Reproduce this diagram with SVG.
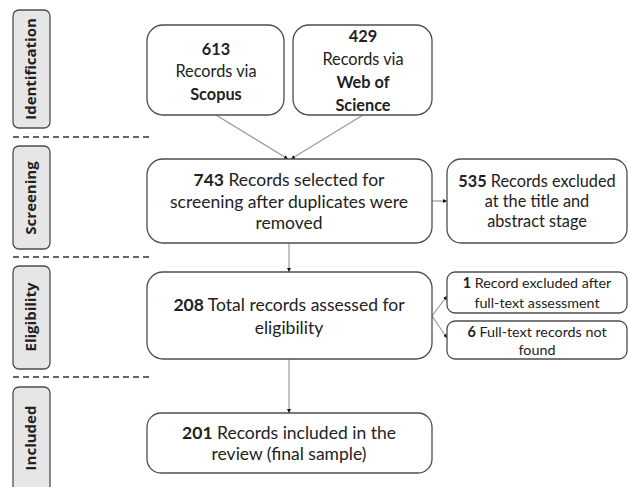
<svg xmlns="http://www.w3.org/2000/svg" width="628" height="487" viewBox="0 0 628 487">
<defs>
<marker id="ah" viewBox="0 0 10 10" refX="10" refY="5" markerWidth="4" markerHeight="4" orient="auto" markerUnits="userSpaceOnUse">
<path d="M0,0 L10,5 L0,10 z" fill="#111"/>
</marker>
</defs>
<style>
.box{fill:#fff;stroke:#4d4d4d;stroke-width:1.3}
.side{fill:#e6e6e6;stroke:#4d4d4d;stroke-width:1.3}
.t{font-family:Lato,"Open Sans",sans-serif;font-size:16.3px;fill:#222;text-anchor:middle}
.L{font-size:17.5px}
.s{font-size:14.3px}
.b{font-weight:bold}
.sl{font-family:"Open Sans",Lato,sans-serif;font-size:15px;font-weight:bold;fill:#222;text-anchor:middle}
.dash{stroke:#333;stroke-width:1.5;stroke-dasharray:6,4}
.c{stroke:#999;stroke-width:1.2;fill:none;marker-end:url(#ah)}
</style>
<rect width="628" height="487" fill="#fff"/>
<g id="lanes">
<rect class="side" x="13" y="10" width="37" height="118" rx="6"/>
<text class="sl" transform="translate(36,69) rotate(-90)">Identification</text>
<rect class="side" x="13" y="146" width="37" height="103" rx="6"/>
<text class="sl" transform="translate(36,198) rotate(-90)">Screening</text>
<rect class="side" x="13" y="266" width="37" height="103" rx="6"/>
<text class="sl" transform="translate(36,317) rotate(-90)">Eligibility</text>
<rect class="side" x="13" y="387" width="37" height="110" rx="6"/>
<text class="sl" transform="translate(36,438) rotate(-90)">Included</text>
<line class="dash" x1="13" y1="137" x2="152" y2="137"/>
<line class="dash" x1="13" y1="257" x2="152" y2="257"/>
<line class="dash" x1="13" y1="377" x2="152" y2="377"/>
</g>
<g id="connectors">
<line class="c" x1="216" y1="115" x2="288" y2="159"/>
<line class="c" x1="363" y1="115" x2="291" y2="159"/>
<line class="c" x1="432" y1="201" x2="447" y2="201"/>
<line class="c" x1="289" y1="243" x2="289" y2="272"/>
<line class="c" x1="432" y1="316" x2="447" y2="296"/>
<line class="c" x1="432" y1="316" x2="447" y2="338"/>
<line class="c" x1="289" y1="359" x2="289" y2="413"/>
</g>
<g id="n613">
<rect class="box" x="147" y="25" width="137" height="90" rx="16"/>
<text class="t" x="216" y="55"><tspan class="b">613</tspan></text>
<text class="t" x="216" y="77">Records via</text>
<text class="t b" x="216" y="100">Scopus</text>
</g>
<g id="n429">
<rect class="box" x="293" y="25" width="139" height="90" rx="16"/>
<text class="t b" x="363" y="42">429</text>
<text class="t" x="363" y="65">Records via</text>
<text class="t b" x="363" y="88">Web of</text>
<text class="t b" x="363" y="111">Science</text>
</g>
<g id="n743">
<rect class="box" x="147" y="159" width="285" height="84" rx="16"/>
<text class="t L" x="289" y="186"><tspan class="b">743</tspan> Records selected for</text>
<text class="t L" x="289" y="208">screening after duplicates were</text>
<text class="t L" x="289" y="229">removed</text>
</g>
<g id="n535">
<rect class="box" x="447" y="159" width="180" height="84" rx="14"/>
<text class="t" x="537" y="187"><tspan class="b">535</tspan> Records excluded</text>
<text class="t" x="537" y="207">at the title and</text>
<text class="t" x="537" y="227">abstract stage</text>
</g>
<g id="n208">
<rect class="box" x="147" y="272" width="285" height="87" rx="16"/>
<text class="t L" x="289" y="311"><tspan class="b">208</tspan> Total records assessed for</text>
<text class="t L" x="289" y="334">eligibility</text>
</g>
<g id="n1">
<rect class="box" x="447" y="272" width="180" height="41" rx="8"/>
<text class="t s" x="537" y="288"><tspan class="b">1</tspan> Record excluded after</text>
<text class="t s" x="537" y="308">full-text assessment</text>
</g>
<g id="n6">
<rect class="box" x="447" y="321" width="180" height="38" rx="8"/>
<text class="t s" x="537" y="337"><tspan class="b">6</tspan> Full-text records not</text>
<text class="t s" x="537" y="355">found</text>
</g>
<g id="n201">
<rect class="box" x="147" y="413" width="285" height="60" rx="14"/>
<text class="t L" x="289" y="439"><tspan class="b">201</tspan> Records included in the</text>
<text class="t L" x="289" y="460">review (final sample)</text>
</g>
</svg>
